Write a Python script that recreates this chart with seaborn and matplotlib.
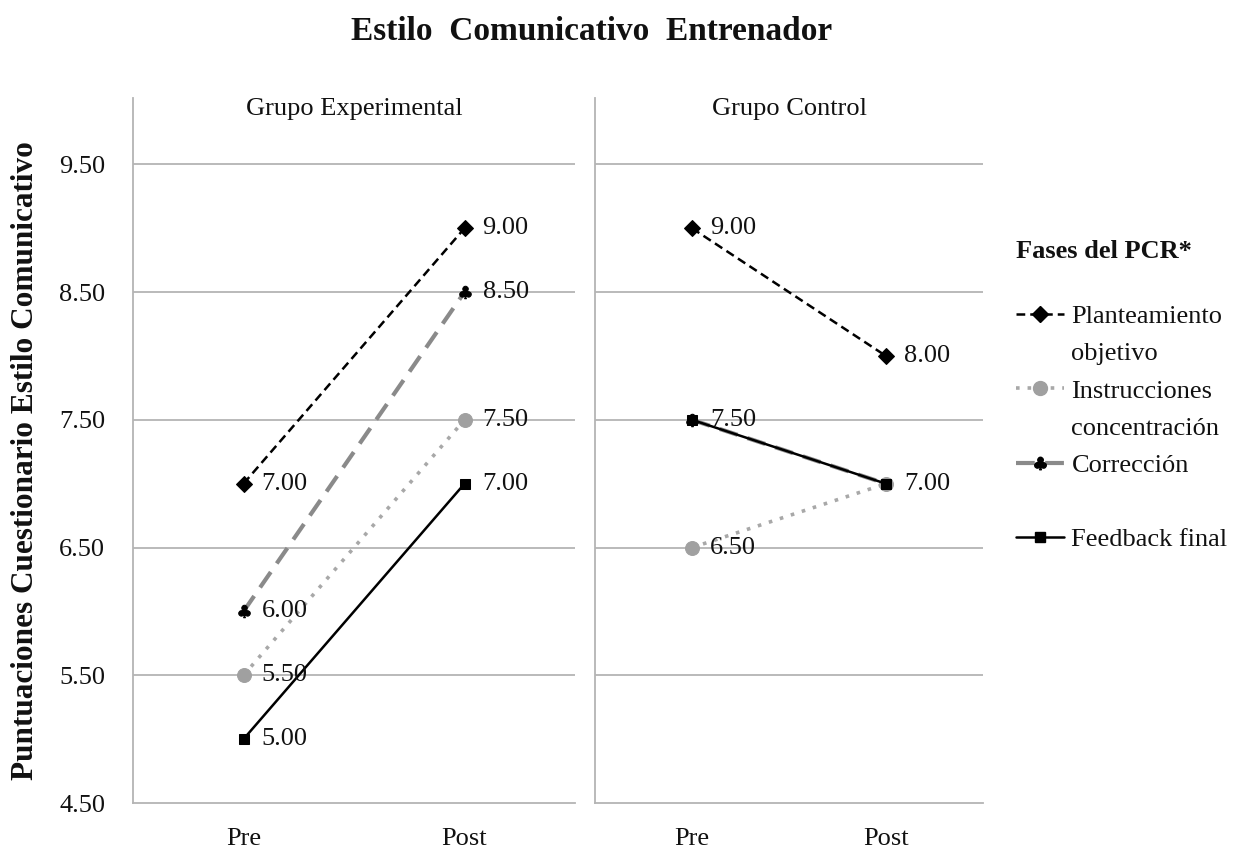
import matplotlib
matplotlib.use("Agg")
import matplotlib.pyplot as plt
from matplotlib.lines import Line2D
import seaborn as sns
import pandas as pd

# ---- data ----
fases = ["Pre", "Post"]
grupos = ["Grupo Experimental", "Grupo Control"]
series = ["Planteamiento objetivo", "Instrucciones concentración", "Corrección", "Feedback final"]
exp_planteamiento = [7.00, 9.00]
exp_instrucciones = [5.50, 7.50]
exp_correccion = [6.00, 8.50]
exp_feedback = [5.00, 7.00]
ctl_planteamiento = [9.00, 8.00]
ctl_instrucciones = [6.50, 7.00]
ctl_correccion = [7.50, 7.00]
ctl_feedback = [7.50, 7.00]
y_ticks = [4.50, 5.50, 6.50, 7.50, 8.50, 9.50]
# value labels shown in the chart (Control: overlapping ones hidden)
labels_shown = {
    "Grupo Experimental": {"Planteamiento objetivo": [True, True], "Instrucciones concentración": [True, True],
                           "Corrección": [True, True], "Feedback final": [True, True]},
    "Grupo Control": {"Planteamiento objetivo": [True, True], "Instrucciones concentración": [True, False],
                      "Corrección": [False, False], "Feedback final": [True, True]},
}

data = {
    "Grupo Experimental": [exp_planteamiento, exp_instrucciones, exp_correccion, exp_feedback],
    "Grupo Control": [ctl_planteamiento, ctl_instrucciones, ctl_correccion, ctl_feedback],
}
rows = []
for g in grupos:
    for s, vals in zip(series, data[g]):
        for f, v in zip(fases, vals):
            rows.append({"grupo": g, "serie": s, "fase": f, "valor": v})
df = pd.DataFrame(rows)

sns.set_theme(style="white", rc={"text.color": "#111111", "xtick.color": "#111111",
                                 "ytick.color": "#111111", "axes.labelcolor": "#111111"})
plt.rcParams["font.family"] = ["Liberation Serif", "DejaVu Serif"]

styles = {
    "Planteamiento objetivo": dict(color="black", linestyle=(0, (3.5, 2)), linewidth=1.8,
                                   marker="D", markersize=8, markerfacecolor="black", markeredgecolor="black"),
    "Instrucciones concentración": dict(color="#a8a8a8", linestyle=(0, (1, 2.2)), linewidth=2.6,
                                        marker="o", markersize=10, markerfacecolor="#a0a0a0", markeredgecolor="#a0a0a0"),
    "Corrección": dict(color="#8a8a8a", linestyle=(0, (4.5, 2.5)), linewidth=3,
                       marker=r"$\clubsuit$", markersize=9, markerfacecolor="black", markeredgecolor="black"),
    "Feedback final": dict(color="black", linestyle="-", linewidth=1.8,
                           marker="s", markersize=7, markerfacecolor="black", markeredgecolor="black"),
}
draw_order = ["Corrección", "Instrucciones concentración", "Planteamiento objetivo", "Feedback final"]

FS = 19
fig = plt.figure(figsize=(12.33, 8.5), dpi=100)
ax_l = fig.add_axes([133 / 1233, 1 - 803 / 850, 442 / 1233, (803 - 98) / 850])
ax_r = fig.add_axes([595 / 1233, 1 - 803 / 850, 388 / 1233, (803 - 98) / 850])

grid_c = "#b4b4b4"
for ax, g in zip([ax_l, ax_r], grupos):
    sub = df[df["grupo"] == g]
    for s in draw_order:
        d = sub[sub["serie"] == s]
        sns.lineplot(data=d, x="fase", y="valor", ax=ax, sort=False, legend=False, **styles[s])
        for i, (f, v) in enumerate(zip(d["fase"], d["valor"])):
            if labels_shown[g][s][i]:
                ax.annotate(f"{v:.2f}", (i, v), xytext=(13, 0), textcoords="offset points",
                            va="center", ha="left", fontsize=FS, color="#111111")
    ax.set_xlim(-0.5, 1.5)
    ax.set_ylim(4.5, 10.02)
    ax.set_yticks(y_ticks)
    ax.set_xticks([0, 1])
    ax.set_xticklabels(fases, fontsize=FS)
    ax.set_xlabel("")
    ax.set_ylabel("")
    for y in y_ticks[1:]:
        ax.axhline(y, color=grid_c, linewidth=1.3, zorder=0)
    for sp in ["top", "right"]:
        ax.spines[sp].set_visible(False)
    for sp in ["left", "bottom"]:
        ax.spines[sp].set_color(grid_c)
        ax.spines[sp].set_linewidth(1.3)
    ax.tick_params(axis="x", length=0, pad=18)
    ax.text(0.5, 1.0, g, transform=ax.transAxes, ha="center", va="top", fontsize=FS)

ax_l.set_yticklabels([f"{t:.2f}" for t in y_ticks], fontsize=FS)
ax_l.tick_params(axis="y", length=0, pad=20)
ax_r.set_yticklabels([])
ax_r.tick_params(axis="y", length=0)

fig.text(0.48, 0.963, "Estilo  Comunicativo  Entrenador", ha="center", va="center",
         fontsize=24, fontweight="bold")
fig.text(0.021, 0.458, "Puntuaciones Cuestionario Estilo Comunicativo", rotation=90,
         ha="center", va="center", fontsize=22.5, fontweight="bold")

# legend (multi-line labels split into rows, blank row keeps the spacing)
blank = Line2D([], [], linestyle="none")
handles = [Line2D([], [], **styles["Planteamiento objetivo"]), blank,
           Line2D([], [], **styles["Instrucciones concentración"]), blank,
           Line2D([], [], **styles["Corrección"]), blank,
           Line2D([], [], **styles["Feedback final"])]
labels = ["Planteamiento", "objetivo", "Instrucciones", "concentración", "Corrección", "", "Feedback final"]
leg = fig.legend(handles, labels, loc="upper left", bbox_to_anchor=(1016 / 1233, 1 - 240 / 850),
                 frameon=False, fontsize=FS, title="Fases del PCR*", handlelength=1.8,
                 handletextpad=0.3, labelspacing=0.52, borderaxespad=0, borderpad=0)
leg.get_title().set_fontweight("bold")
leg.get_title().set_fontsize(FS)
leg._legend_box.align = "left"
leg._legend_box.sep = 30

fig.savefig("out.png", dpi=100)
